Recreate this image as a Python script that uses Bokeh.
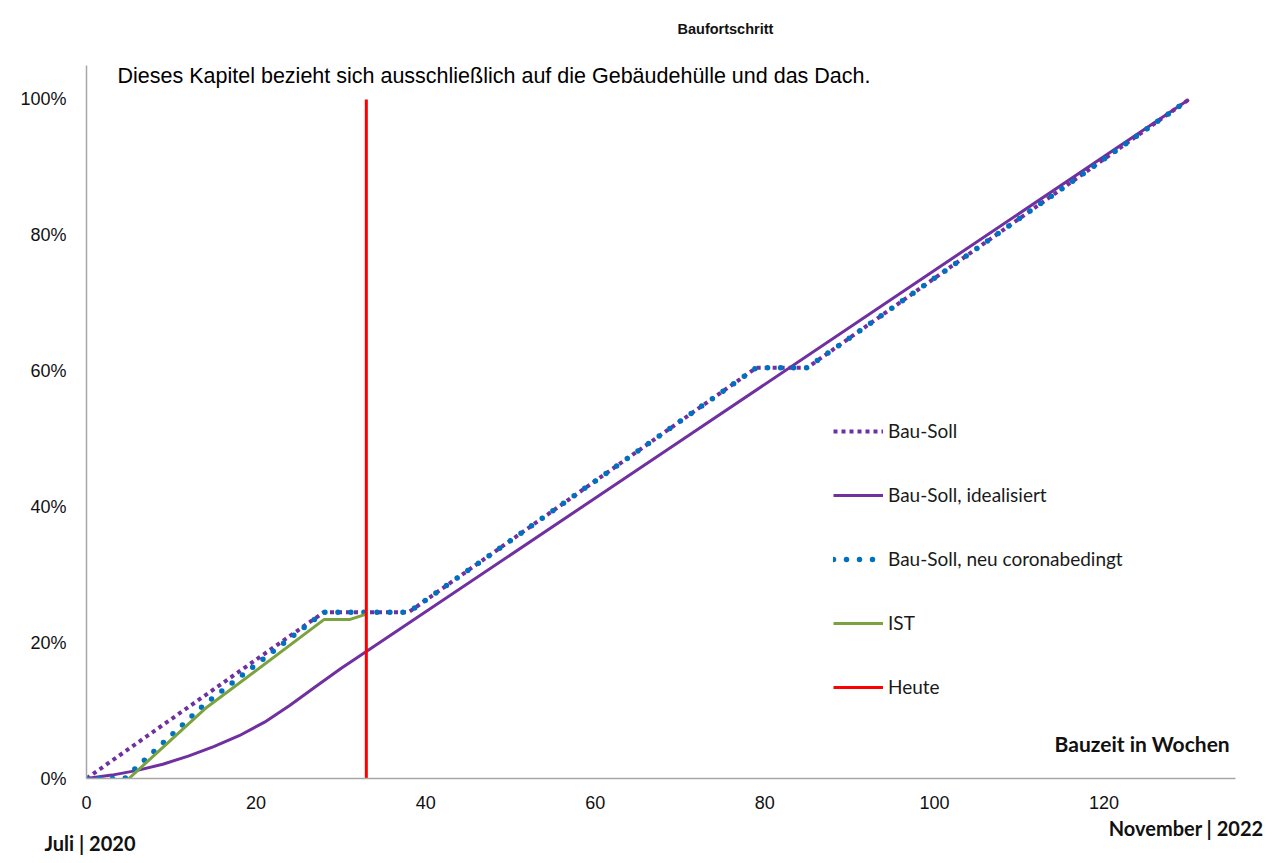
from bokeh.plotting import figure
from bokeh.models import Range1d, Legend, LegendItem, Label, Title, NumeralTickFormatter, FixedTicker
from bokeh.embed import file_html
from bokeh.resources import INLINE

# ---- data (weeks, progress fraction) ----
bau_soll_x = [0, 28, 38, 79, 85, 130]
bau_soll_y = [0.0, 0.245, 0.245, 0.605, 0.605, 1.0]

ideal_x = [0, 3, 6, 9, 12, 15, 18, 21, 24, 27, 30, 33, 71, 130]
ideal_y = [0.0, 0.005, 0.012, 0.021, 0.033, 0.047, 0.063, 0.083, 0.108, 0.135, 0.162, 0.187, 0.505, 1.0]

neu_x = [0, 4.5, 14, 28, 38, 79, 85, 130]
neu_y = [0.0, 0.0, 0.11, 0.245, 0.245, 0.605, 0.605, 1.0]

ist_x = [5, 14, 28, 31, 33]
ist_y = [0.0, 0.103, 0.234, 0.234, 0.242]

heute_x = [33, 33]
heute_y = [0.0, 1.0]

x_ticks = [0, 20, 40, 60, 80, 100, 120]
y_ticks = [0.0, 0.2, 0.4, 0.6, 0.8, 1.0]

series_labels = ["Bau-Soll", "Bau-Soll, idealisiert", "Bau-Soll, neu coronabedingt", "IST", "Heute"]

p = figure(width=1265, height=863, output_backend="svg", toolbar_location=None, title=None,
           x_range=Range1d(0, 135.5), y_range=Range1d(0, 1.05),
           min_border_left=86, min_border_right=30, min_border_top=65, min_border_bottom=85)
p.outline_line_color = None
p.xgrid.visible = False
p.ygrid.visible = False

for ax in (p.xaxis[0], p.yaxis[0]):
    ax.axis_line_color = "#A6A6A6"
    ax.axis_line_width = 1.5
    ax.major_tick_line_color = None
    ax.minor_tick_line_color = None
    ax.major_label_text_font = "Liberation Sans"
    ax.major_label_text_font_size = "18px"
    ax.major_label_text_color = "#111111"

p.xaxis.ticker = FixedTicker(ticks=x_ticks)
p.yaxis.ticker = FixedTicker(ticks=y_ticks)
p.yaxis.formatter = NumeralTickFormatter(format="0%")
p.xaxis.major_label_standoff = 11
p.yaxis.major_label_standoff = 14

r1 = p.line(bau_soll_x, bau_soll_y, line_color="#7030A0", line_width=4, line_dash="4 4")
r2 = p.line(ideal_x, ideal_y, line_color="#7030A0", line_width=3)
r3 = p.line(neu_x, neu_y, line_color="#0070C0", line_width=5.5, line_dash="0 13", line_cap="round")
r4 = p.line(ist_x, ist_y, line_color="#7AA23F", line_width=3)
r5 = p.line(heute_x, heute_y, line_color="#FF0000", line_width=3)

legend = Legend(items=[LegendItem(label=l, renderers=[r]) for l, r in zip(series_labels, [r1, r2, r3, r4, r5])],
                location=(747, 80), padding=0, margin=0, glyph_width=50, glyph_height=20,
                label_height=20, spacing=41, label_standoff=5,
                label_text_font="Lato", label_text_font_size="19px", label_text_color="#1a1a1a",
                border_line_color=None, background_fill_alpha=0)
p.add_layout(legend)

# chart title: an empty second line lifts the text further above the frame
p.add_layout(Title(text="Baufortschritt\n ", align="left", offset=591, standoff=26,
                   text_font="Liberation Sans", text_font_style="bold", text_font_size="14.5px",
                   text_color="#111111"), "above")

p.add_layout(Label(x=3.66, y=1.035, text="Dieses Kapitel bezieht sich ausschließlich auf die Gebäudehülle und das Dach.",
                   text_align="left", text_baseline="middle", text_color="#000000",
                   text_font="Liberation Sans", text_font_size="21.5px"))
p.add_layout(Label(x=124.5, y=0.0515, text="Bauzeit in Wochen", text_align="center", text_baseline="middle",
                   text_color="#111111",
                   text_font="Lato", text_font_style="bold", text_font_size="21px"))

p.add_layout(Title(text="November | 2022", align="right", offset=-28, standoff=3.5,
                   text_font="Lato", text_font_style="bold", text_font_size="20px", text_color="#111111"), "below")
p.add_layout(Title(text="Juli | 2020", align="left", offset=-42, standoff=-25.5,
                   text_font="Lato", text_font_style="bold", text_font_size="20px", text_color="#111111"), "below")

open("out.html", "w").write(file_html(p, INLINE))
